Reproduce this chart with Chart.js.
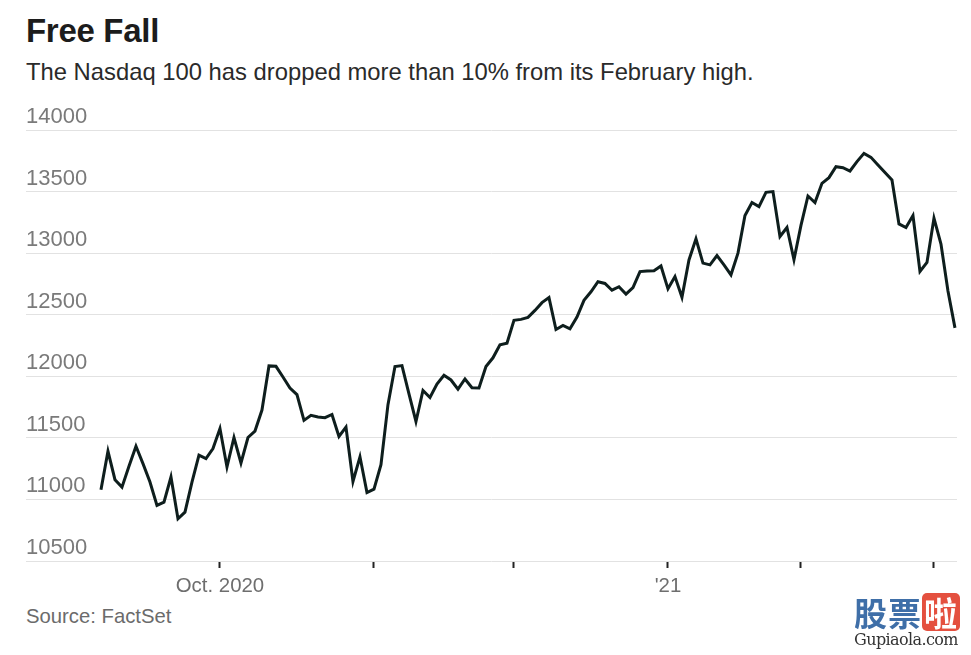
<!DOCTYPE html>
<html>
<head>
<meta charset="utf-8">
<script src="https://cdn.jsdelivr.net/npm/chart.js@4.4.1/dist/chart.umd.min.js"></script>
<style>
  html, body { margin: 0; padding: 0; background: #ffffff; }
  body { width: 971px; height: 655px; position: relative; overflow: hidden; font-family: "Liberation Sans", Arial, sans-serif; }
  #title { position: absolute; left: 26px; top: 12px; font-size: 33px; font-weight: bold; color: #1c1c1c; letter-spacing: -0.3px; }
  #subtitle { position: absolute; left: 26px; top: 58px; font-size: 23.8px; color: #2a2a2a; }
  #source { position: absolute; left: 26px; top: 605px; font-size: 20.3px; color: #6b6b6b; }
  #wrap { position: absolute; left: 0; top: 95px; width: 971px; height: 510px; }
  #wm { position: absolute; left: 854px; top: 593px; width: 117px; height: 62px; font-family: "Noto Sans CJK SC", sans-serif; }
  #wm .cn { font-size: 33px; font-weight: bold; line-height: 38px; color: #3f6fa8; letter-spacing: 1px; white-space: nowrap; }
  #wm .la { display: inline-block; background: #e4503f; color: #fff; border-radius: 5px; width: 38px; text-align: center; }
  #wm .en { font-family: "DejaVu Serif", serif; font-size: 16px; color: #333; line-height: 18px; letter-spacing: -0.6px; white-space: nowrap; }
</style>
</head>
<body>
<div id="title">Free Fall</div>
<div id="subtitle">The Nasdaq 100 has dropped more than 10% from its February high.</div>
<div id="wrap"><canvas id="c" width="971" height="510"></canvas></div>
<div id="source">Source: FactSet</div>
<div id="wm"><div class="cn">股票<span class="la">啦</span></div><div class="en">Gupiaola.com</div></div>
<script>
// Trading days shown (Sept 8, 2020 – Mar 4, 2021)
const tradingDays = [
  "2020-09-08","2020-09-09","2020-09-10","2020-09-11","2020-09-14","2020-09-15","2020-09-16","2020-09-17","2020-09-18",
  "2020-09-21","2020-09-22","2020-09-23","2020-09-24","2020-09-25","2020-09-28","2020-09-29","2020-09-30",
  "2020-10-01","2020-10-02","2020-10-05","2020-10-06","2020-10-07","2020-10-08","2020-10-09","2020-10-12","2020-10-13",
  "2020-10-14","2020-10-15","2020-10-16","2020-10-19","2020-10-20","2020-10-21","2020-10-22","2020-10-23","2020-10-26",
  "2020-10-27","2020-10-28","2020-10-29","2020-10-30",
  "2020-11-02","2020-11-03","2020-11-04","2020-11-05","2020-11-06","2020-11-09","2020-11-10","2020-11-11","2020-11-12",
  "2020-11-13","2020-11-16","2020-11-17","2020-11-18","2020-11-19","2020-11-20","2020-11-23","2020-11-24","2020-11-25",
  "2020-11-27","2020-11-30",
  "2020-12-01","2020-12-02","2020-12-03","2020-12-04","2020-12-07","2020-12-08","2020-12-09","2020-12-10","2020-12-11",
  "2020-12-14","2020-12-15","2020-12-16","2020-12-17","2020-12-18","2020-12-21","2020-12-22","2020-12-23","2020-12-24",
  "2020-12-28","2020-12-29","2020-12-30","2020-12-31",
  "2021-01-04","2021-01-05","2021-01-06","2021-01-07","2021-01-08","2021-01-11","2021-01-12","2021-01-13","2021-01-14",
  "2021-01-15","2021-01-19","2021-01-20","2021-01-21","2021-01-22","2021-01-25","2021-01-26","2021-01-27","2021-01-28",
  "2021-01-29",
  "2021-02-01","2021-02-02","2021-02-03","2021-02-04","2021-02-05","2021-02-08","2021-02-09","2021-02-10","2021-02-11",
  "2021-02-12","2021-02-16","2021-02-17","2021-02-18","2021-02-19","2021-02-22","2021-02-23","2021-02-24","2021-02-25",
  "2021-02-26",
  "2021-03-01","2021-03-02","2021-03-03","2021-03-04"
];

// Nasdaq 100 close
const nasdaq100 = [
  11079, 11391, 11160, 11100, 11269, 11432, 11291, 11141, 10951, 10978,
  11182, 10843, 10897, 11141, 11359, 11332, 11413, 11576, 11263, 11503,
  11296, 11503, 11555, 11726, 12084, 12081, 11994, 11905, 11851, 11642,
  11683, 11669, 11664, 11690, 11511, 11587, 11146, 11346, 11055, 11083,
  11282, 11770, 12079, 12087, 11858, 11633, 11885, 11828, 11937, 12008,
  11970, 11896, 11978, 11907, 11905, 12080, 12150, 12255, 12269, 12455,
  12462, 12478, 12535, 12598, 12639, 12380, 12413, 12385, 12481, 12617,
  12686, 12768, 12754, 12699, 12727, 12667, 12721, 12850, 12855, 12857,
  12896, 12710, 12810, 12641, 12945, 13116, 12919, 12905, 12981, 12905,
  12824, 13000, 13305, 13411, 13378, 13494, 13500, 13135, 13208, 12946,
  13225, 13464, 13411, 13567, 13613, 13702, 13694, 13667, 13743, 13810,
  13778, 13716, 13654, 13594, 13237, 13208, 13305, 12852, 12925, 13284,
  13073, 12692, 12393
];

// Month tick marks and their labels
const tickMonths = ["2020-10", "2020-11", "2020-12", "2021-01", "2021-02", "2021-03"];
const tickLabels = ["Oct. 2020", "", "", "'21", "", ""];
const yTicks = [10500, 11000, 11500, 12000, 12500, 13000, 13500, 14000];

const tickIndex = tickMonths.map(m => tradingDays.findIndex(d => d.startsWith(m)));
const points = nasdaq100.map((v, i) => ({ x: i, y: v }));

new Chart(document.getElementById('c'), {
  type: 'line',
  data: {
    datasets: [{
      data: points,
      borderColor: '#0e1e1d',
      borderWidth: 3,
      pointRadius: 0,
      pointHoverRadius: 0,
      tension: 0,
      borderJoinStyle: 'miter',
      fill: false
    }]
  },
  options: {
    responsive: false,
    animation: false,
    events: [],
    layout: { padding: { left: 26, right: 14, top: 35, bottom: 4 } },
    plugins: { legend: { display: false }, tooltip: { enabled: false }, title: { display: false } },
    scales: {
      x: {
        type: 'linear',
        min: -10.71,
        max: 122.29,
        afterFit: s => { s.height = 40; },
        afterBuildTicks: s => { s.ticks = tickIndex.map(v => ({ value: v })); },
        ticks: {
          autoSkip: false,
          maxRotation: 0,
          padding: 6,
          color: '#6e6e6e',
          font: { family: '"Liberation Sans", Arial, sans-serif', size: 20.4 },
          callback: (v) => { const k = tickIndex.indexOf(v); return k >= 0 ? tickLabels[k] : ''; }
        },
        grid: { drawOnChartArea: false, drawTicks: true, tickLength: 7, tickColor: '#222', tickWidth: 2 },
        border: { display: false }
      },
      y: {
        type: 'linear',
        min: 10500,
        max: 14000,
        afterFit: s => { s.width = 0; },
        afterBuildTicks: s => { s.ticks = yTicks.map(v => ({ value: v })); },
        ticks: {
          mirror: true,
          padding: 0,
          labelOffset: -13,
          color: '#7a7a7a',
          font: { family: '"Liberation Sans", Arial, sans-serif', size: 22 },
          callback: v => String(v)
        },
        grid: { color: '#e2e2e2', lineWidth: 1, drawTicks: false },
        border: { display: false }
      }
    }
  }
});
</script>
</body>
</html>
